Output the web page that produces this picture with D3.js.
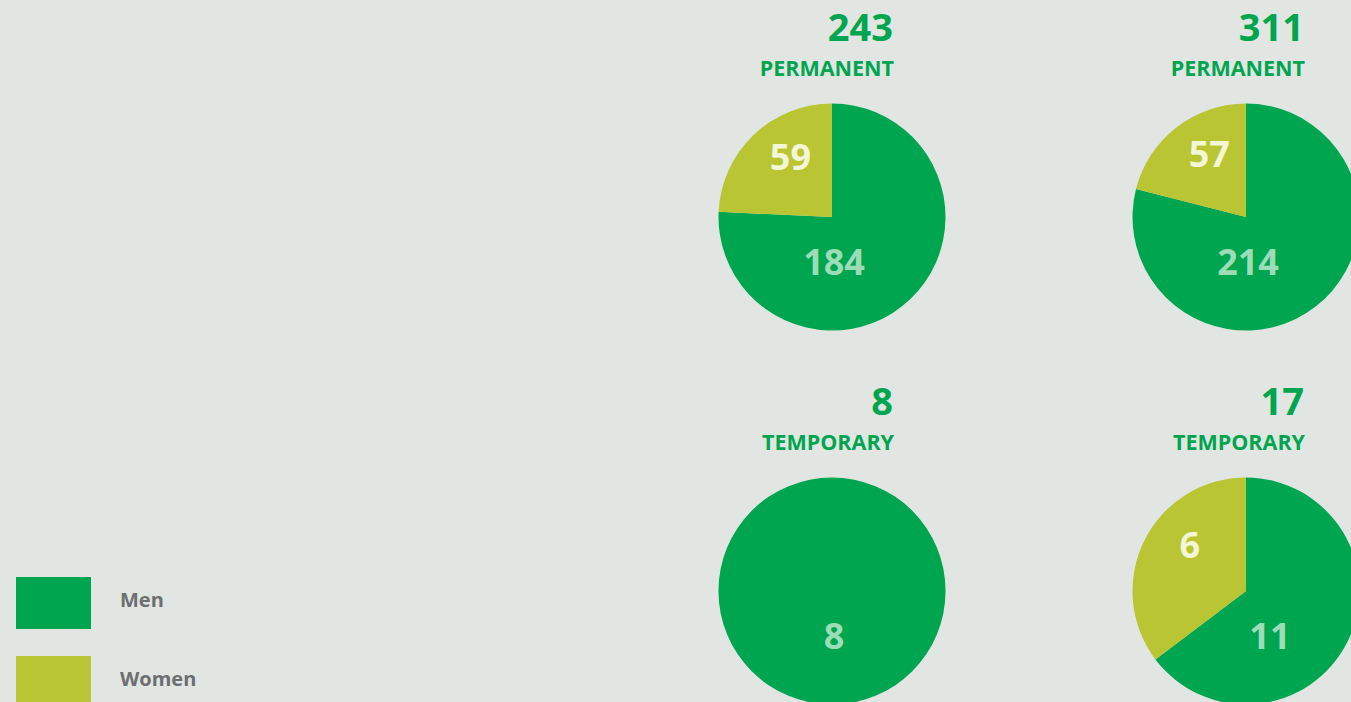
<!DOCTYPE html>
<html>
<head>
<meta charset="utf-8">
<script src="https://cdn.jsdelivr.net/npm/d3@7"></script>
<style>
  html, body { margin: 0; padding: 0; background: #e1e6e2; overflow: hidden; }
  svg { display: block; font-family: "Open Sans", "Noto Sans", sans-serif; }
</style>
</head>
<body>
<svg id="chart" width="1351" height="702"></svg>
<script>
// Employees by contract type, split by gender
const contracts = ["PERMANENT", "PERMANENT", "TEMPORARY", "TEMPORARY"];
const totals = [243, 311, 8, 17];
const men = [184, 214, 8, 11];
const women = [59, 57, 0, 6];
const genders = ["Men", "Women"];

const W = 1351, H = 702;
const colors = d3.scaleOrdinal().domain(genders).range(["#00a54f", "#b9c532"]);
const labelColors = d3.scaleOrdinal().domain(genders).range(["#9cdcb7", "#f4f6d6"]);

const svg = d3.select("#chart");
svg.append("rect").attr("width", W).attr("height", H).attr("fill", "#e1e6e2");

// 2x2 grid of pies
const colX = d3.scalePoint().domain([0, 1]).range([832, 1246]);
const headX = d3.scalePoint().domain([0, 1]).range([893, 1304]);
const rowY = d3.scalePoint().domain([0, 1]).range([217, 591]);
const r = 113.5;

const pie = d3.pie().sort(null).value(d => d.value);
const arc = d3.arc().innerRadius(0).outerRadius(r);

contracts.forEach((contract, i) => {
  const col = i % 2, row = Math.floor(i / 2);
  const cx = colX(col), cy = rowY(row);

  // Heading: total and contract type, right-aligned above the pie
  svg.append("text")
    .attr("x", headX(col)).attr("y", cy - 176)
    .attr("text-anchor", "end")
    .attr("font-size", 38).attr("font-weight", 700)
    .attr("fill", "#00a54f")
    .text(totals[i]);
  svg.append("text")
    .attr("x", headX(col) + 1).attr("y", cy - 141)
    .attr("text-anchor", "end")
    .attr("font-size", 21.5).attr("font-weight", 700)
    .attr("fill", "#00a54f")
    .text(contract);

  const g = svg.append("g").attr("transform", `translate(${cx},${cy})`);
  const data = [
    { gender: "Men", value: men[i] },
    { gender: "Women", value: women[i] }
  ];
  const arcs = pie(data);

  g.selectAll("path")
    .data(arcs.filter(a => a.data.value > 0))
    .join("path")
    .attr("d", arc)
    .attr("fill", a => colors(a.data.gender));

  // Slice values
  arcs.forEach(a => {
    if (a.data.value <= 0) return;
    let x, y;
    if (a.data.gender === "Women") {
      // women value sits in the upper-left slice, leaning towards 12 o'clock
      const mid = (a.startAngle + a.endAngle) / 2;
      const ang = mid + (a.endAngle - mid) * 0.2;
      const rr = r * 0.64;
      x = rr * Math.sin(ang); y = -rr * Math.cos(ang);
    } else {
      // centre the men value in the men region along a chord below the centre
      y = r * 0.4;
      const half = Math.sqrt(r * r - y * y);
      let left = -half;
      const womenArc = arcs.find(d => d.data.gender === "Women");
      if (womenArc.data.value > 0) {
        const ang = womenArc.startAngle; // boundary ray from the centre
        const dx = Math.sin(ang), dy = -Math.cos(ang);
        if (dy > 0) left = Math.max(left, dx / dy * y);
      }
      x = (left + half) / 2 + 2;
    }
    g.append("text")
      .attr("x", x).attr("y", y)
      .attr("dy", "0.36em")
      .attr("text-anchor", "middle")
      .attr("font-size", 36).attr("font-weight", 700)
      .attr("fill", labelColors(a.data.gender))
      .text(a.data.value);
  });
});

// Legend
const legend = svg.append("g").attr("transform", "translate(16,577)");
const item = legend.selectAll("g").data(genders).join("g")
  .attr("transform", (d, k) => `translate(0,${k * 79})`);
item.append("rect")
  .attr("width", 75).attr("height", 52)
  .attr("fill", d => colors(d));
item.append("text")
  .attr("x", 104).attr("y", 30)
  .attr("font-size", 20).attr("font-weight", 700)
  .attr("fill", "#6d6e71")
  .text(d => d);
</script>
</body>
</html>
